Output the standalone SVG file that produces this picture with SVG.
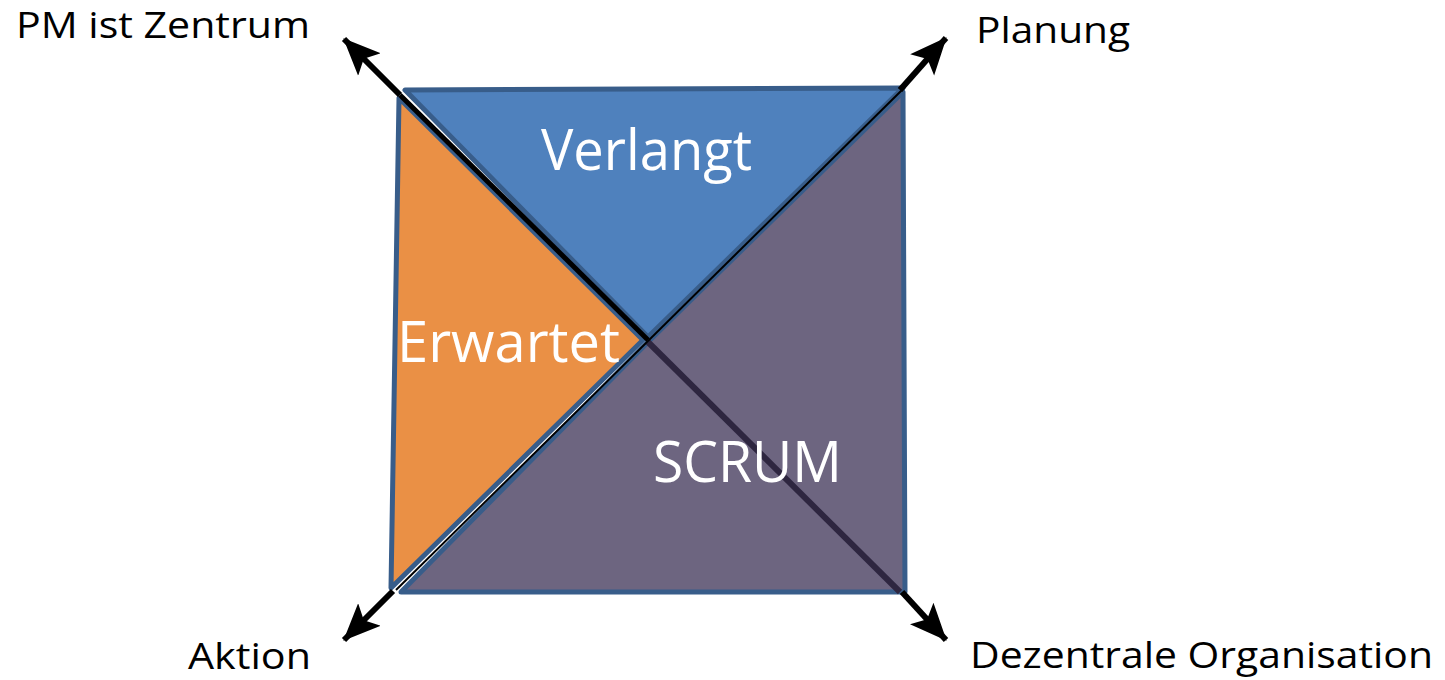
<svg xmlns="http://www.w3.org/2000/svg" width="1445" height="680" viewBox="0 0 1445 680">
<style>
.lbl{font-family:"Open Sans","Noto Sans","Liberation Sans",sans-serif;font-size:37px;fill:#000}
.in{font-family:"Open Sans","Noto Sans","Liberation Sans",sans-serif;font-size:56px;fill:#fff}
.tri{stroke:#385d8a;stroke-width:5;stroke-linejoin:round}
.arr{stroke:#000;stroke-width:6;fill:none}
</style>
<defs>
<marker id="ah" markerUnits="userSpaceOnUse" markerWidth="38" markerHeight="34" viewBox="0 0 38 34" refX="36" refY="17" orient="auto">
<path d="M0,1 L37,17 L0,33 L8,17 z" fill="#000"/>
</marker>
</defs>
<rect width="1445" height="680" fill="#fff"/>
<g id="purple">
<polygon class="tri" points="903,92 905,592 401,592 648,342" fill="#6d6580"/>
</g>
<g id="blue">
<polygon class="tri" points="405,90 903,88 648,337" fill="#4f81bd"/>
</g>
<g id="orange">
<polygon class="tri" points="399,98 391,588 643,340" fill="#ea9045"/>
</g>
<g id="connectors">
<line x1="648" y1="342" x2="900" y2="592" stroke="#2e2640" stroke-width="6"/>
<line x1="648" y1="340" x2="400" y2="95" stroke="#000" stroke-width="5"/>
<line class="arr" x1="400" y1="95" x2="344" y2="39" marker-end="url(#ah)"/>
<line class="arr" x1="902" y1="592" x2="946" y2="640" marker-end="url(#ah)"/>
<line x1="396" y1="590" x2="902" y2="90" stroke="#000" stroke-width="2"/>
<line class="arr" x1="393" y1="591" x2="344" y2="640" marker-end="url(#ah)"/>
<line class="arr" x1="900" y1="90" x2="946" y2="38" marker-end="url(#ah)"/>
</g>
<g id="labels">
<text class="lbl" x="16" y="38" textLength="294" lengthAdjust="spacingAndGlyphs">PM ist Zentrum</text>
<text class="lbl" x="976" y="43" textLength="154" lengthAdjust="spacingAndGlyphs">Planung</text>
<text class="lbl" x="188" y="669" textLength="123" lengthAdjust="spacingAndGlyphs">Aktion</text>
<text class="lbl" x="970" y="668" textLength="463" lengthAdjust="spacingAndGlyphs">Dezentrale Organisation</text>
<text class="in" x="541" y="170" textLength="211" lengthAdjust="spacingAndGlyphs">Verlangt</text>
<text class="in" x="397" y="362" textLength="223" lengthAdjust="spacingAndGlyphs">Erwartet</text>
<text class="in" x="653" y="482" textLength="189" lengthAdjust="spacingAndGlyphs">SCRUM</text>
</g>
</svg>
